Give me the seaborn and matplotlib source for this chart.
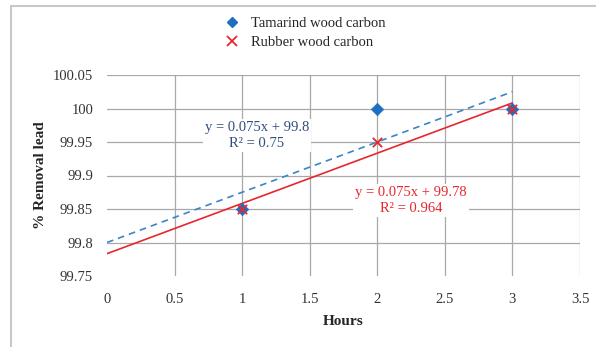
import matplotlib
matplotlib.use("Agg")
import matplotlib.pyplot as plt
import seaborn as sns
import numpy as np
import pandas as pd
from matplotlib.lines import Line2D
from matplotlib.patches import Rectangle

hours = [1, 2, 3]
tamarind = [99.85, 100.0, 100.0]
rubber = [99.85, 99.95, 100.0]
series_names = ["Tamarind wood carbon", "Rubber wood carbon"]
x_ticks = [0, 0.5, 1, 1.5, 2, 2.5, 3, 3.5]
y_ticks = [99.75, 99.8, 99.85, 99.9, 99.95, 100, 100.05]
y_tick_labels = ["99.75", "99.8", "99.85", "99.9", "99.95", "100", "100.05"]
x_tick_labels = ["0", "0.5", "1", "1.5", "2", "2.5", "3", "3.5"]

sns.set_style("white")
plt.rcParams['font.family'] = ['Liberation Serif', 'DejaVu Serif']

df = pd.DataFrame({
    "Hours": hours * 2,
    "Removal": tamarind + rubber,
    "Series": [series_names[0]] * 3 + [series_names[1]] * 3,
})

fig = plt.figure(figsize=(5.96, 3.47), dpi=100)
ax = fig.add_axes([107/596, 1 - 276/347, (580 - 107)/596, (276 - 75)/347])

# border around chart area
fig.patches.append(Rectangle((11/596, -0.05), 1.1, 1 - 6/347 + 0.05,
                             transform=fig.transFigure, fill=False,
                             edgecolor="#c8c8c8", linewidth=1.5))

blue = "#1f6fc0"
red = "#e8262e"

# trend lines
xl = np.array([0, 3])
tb = np.polyfit(hours, tamarind, 1)
rb = np.polyfit(hours, rubber, 1)
ax.plot(xl, np.polyval(tb, xl), color="#3a85c8", lw=1.2, ls=(0, (4, 3)), zorder=3)
ax.plot(xl, np.polyval(rb, xl), color=red, lw=1.2, zorder=3)

sns.scatterplot(data=df[df.Series == series_names[0]], x="Hours", y="Removal",
                marker="D", color=blue, s=40, edgecolor=blue, ax=ax, zorder=4,
                legend=False)
sns.scatterplot(data=df[df.Series == series_names[1]], x="Hours", y="Removal",
                marker="x", color=red, s=45, linewidth=1.3, ax=ax, zorder=5,
                legend=False)

ax.set_xlim(0, 3.5)
ax.set_ylim(99.75, 100.05)
ax.set_xticks(x_ticks)
ax.set_xticklabels(x_tick_labels)
ax.set_yticks(y_ticks)
ax.set_yticklabels(y_tick_labels)
ax.grid(True, color="#a8a8a8", lw=0.9)
ax.xaxis.get_gridlines()[0].set_visible(False)
ax.yaxis.get_gridlines()[0].set_visible(False)
for s in ax.spines.values():
    s.set_visible(False)
ax.tick_params(axis="both", length=0, labelsize=10.5, colors="#333333")
ax.tick_params(axis="x", pad=12)
ax.tick_params(axis="y", pad=10)
ax.set_xlabel("Hours", fontsize=11, fontweight="bold", labelpad=7)
ax.set_ylabel("% Removal lead", fontsize=11, fontweight="bold", labelpad=4)

ax.text(1.11, 99.96, "y = 0.075x + 99.8\nR² = 0.75", ha="center", va="center",
        fontsize=10.5, color="#2e4f7f", linespacing=1.25,
        bbox=dict(facecolor="white", edgecolor="none", pad=1.5), zorder=6)
ax.text(2.25, 99.863, "y = 0.075x + 99.78\nR² = 0.964", ha="center", va="center",
        fontsize=10.5, color=red, linespacing=1.25,
        bbox=dict(facecolor="white", edgecolor="none", pad=1.5), zorder=6)

handles = [
    Line2D([], [], marker="D", color=blue, ls="none", markersize=5),
    Line2D([], [], marker="x", color=red, ls="none", markersize=7, markeredgewidth=1.3),
]
fig.legend(handles, series_names, loc="center", bbox_to_anchor=(305/596, 1 - 33/347),
           frameon=False, fontsize=10.5, handletextpad=0.8, labelspacing=0.4,
           handlelength=1.0)

fig.savefig("out.png", dpi=100, facecolor="white")
